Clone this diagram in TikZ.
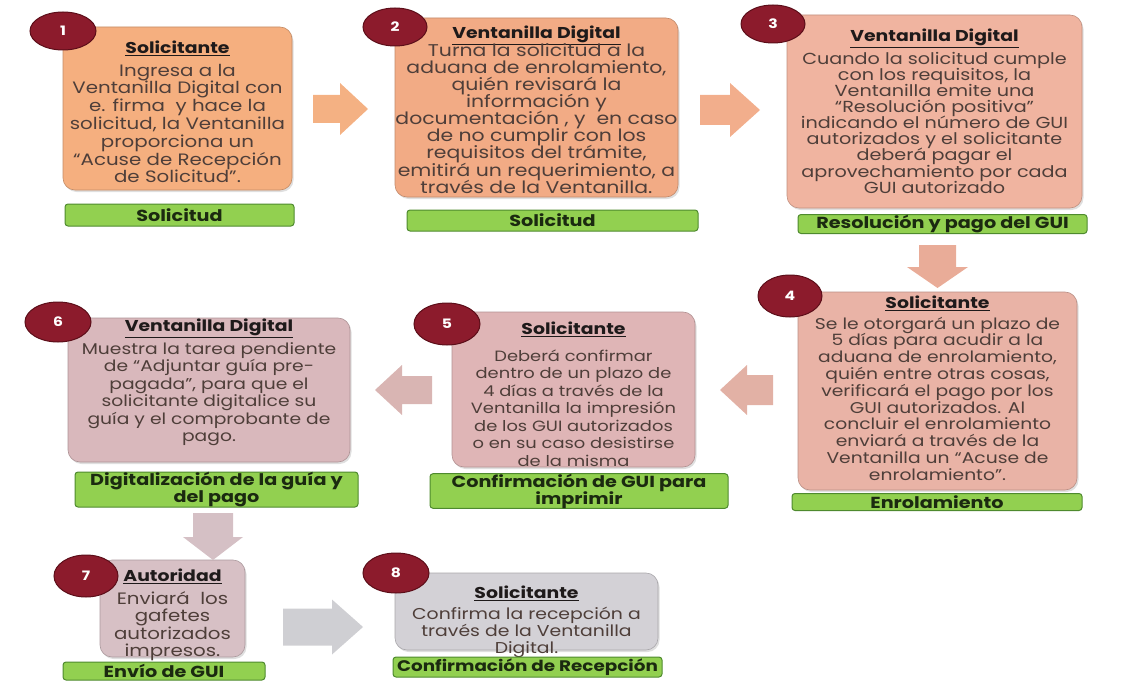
\documentclass[tikz,border=0pt]{standalone}
\usepackage{fontspec}
\setmainfont{Poppins}[FakeStretch=1.2]
\usetikzlibrary{shapes.geometric,shadows}

\definecolor{fillA}{HTML}{F5AF7F}
\definecolor{fillB}{HTML}{F2AB85}
\definecolor{fillC}{HTML}{F0B4A0}
\definecolor{fillD}{HTML}{E9B3A6}
\definecolor{fillE}{HTML}{DFB5B6}
\definecolor{fillF}{HTML}{D9B8BC}
\definecolor{fillG}{HTML}{D7C0C5}
\definecolor{fillH}{HTML}{D3D1D6}
\definecolor{arrA}{HTML}{F4B183}
\definecolor{arrB}{HTML}{F2AE8C}
\definecolor{arrC}{HTML}{E9AC98}
\definecolor{arrD}{HTML}{E2B1A5}
\definecolor{arrE}{HTML}{D9B5B3}
\definecolor{arrF}{HTML}{D5C0C5}
\definecolor{arrG}{HTML}{CFCFD3}
\definecolor{numred}{HTML}{8C1B2C}
\definecolor{numdark}{HTML}{5C0E19}
\definecolor{taggreen}{HTML}{92D050}
\definecolor{tagdark}{HTML}{4E8A2E}
\definecolor{tagtxt}{HTML}{1B2A10}
\definecolor{bodytxt}{HTML}{4E3E39}
\definecolor{titletxt}{HTML}{1E1A1A}

\newcommand{\fsz}[2]{\fontsize{#1}{#2}\selectfont}
\newcommand{\ttl}[1]{{\fontsize{15.7}{17}\selectfont\color{titletxt}\bfseries\underline{#1}}}
% horizontal block arrow: colour, tail x, tip x, head-start x, centre y, shaft half, head half
\newcommand{\harrow}[7]{\fill[#1] (#2,#5-#6) -- (#4,#5-#6) -- (#4,#5-#7) -- (#3,#5)
   -- (#4,#5+#7) -- (#4,#5+#6) -- (#2,#5+#6) -- cycle;}
% vertical block arrow: colour, centre x, tail y, tip y, head-start y, shaft half, head half
\newcommand{\varrow}[7]{\fill[#1] (#2-#6,#3) -- (#2+#6,#3) -- (#2+#6,#5) -- (#2+#7,#5)
   -- (#2,#4) -- (#2-#7,#5) -- (#2-#6,#5) -- cycle;}

\tikzset{
  stepbox/.style={rectangle, rounded corners=12pt, inner sep=0pt,
    draw=#1!80!black, line width=0.6pt, fill=#1,
    drop shadow={opacity=0.25, shadow xshift=1.5pt, shadow yshift=-2pt}},
  boxtext/.style={inner sep=0pt, align=center, text=bodytxt, anchor=north,
    execute at begin node={\lineskiplimit=-50pt}},
  numbub/.style={ellipse, fill=numred, draw=numdark, line width=1pt, text=white,
    font=\bfseries\fsz{13}{13}, inner sep=0pt},
  tag/.style={rectangle, rounded corners=3pt, fill=taggreen, draw=tagdark,
    line width=1pt, text=tagtxt, font=\bfseries\fsz{16}{17}, align=center, inner sep=0pt,
    execute at begin node={\lineskiplimit=-50pt}}
}

\begin{document}
\begin{tikzpicture}[x=1pt,y=-1pt]
\useasboundingbox (0,0) rectangle (1143,682);

% ---------- boxes ----------
\node[stepbox=fillA, minimum width=229pt, minimum height=163pt] (b1) at (177.5,108.5) {};
\node[stepbox=fillB, minimum width=283pt, minimum height=179pt] (b2) at (536.5,107.5) {};
\node[stepbox=fillC, minimum width=295pt, minimum height=193pt] (b3) at (934.5,111.5) {};
\node[stepbox=fillD, minimum width=279pt, minimum height=198pt] (b4) at (937.5,391) {};
\node[stepbox=fillE, minimum width=243pt, minimum height=155pt] (b5) at (573.5,389.5) {};
\node[stepbox=fillF, minimum width=282pt, minimum height=144pt] (b6) at (209,390) {};
\node[stepbox=fillG, minimum width=145pt, minimum height=97pt] (b7) at (172.5,608.5) {};
\node[stepbox=fillH, minimum width=263pt, minimum height=77pt] (b8) at (526.5,611.5) {};

% ---------- box texts ----------
\node[boxtext, font=\fsz{16.5}{17.8}] (t1) at (177.5,40.5)
 {\ttl{Solicitante}\\[5pt]
  Ingresa a la\\ Ventanilla Digital con\\ e. firma \ y hace la\\ solicitud, la Ventanilla\\
  proporciona un\\ “Acuse de Recepción\\ de Solicitud”.};

\node[boxtext, font=\fsz{17}{17.1}] (t2) at (536.5,25.5)
 {\ttl{Ventanilla Digital}\\[1pt]
  Turna la solicitud a la\\ aduana de enrolamiento,\\ quién revisará la\\ información y\\
  documentación , y \ en caso\\ de no cumplir con los\\ requisitos del trámite,\\
  emitirá un requerimiento, a\\ través de la Ventanilla.};

\node[boxtext, font=\fsz{16}{16.1}] (t3) at (934.5,28.5)
 {\ttl{Ventanilla Digital}\\[7pt]
  Cuando la solicitud cumple\\ con los requisitos, la\\ Ventanilla emite una\\
  “Resolución positiva”\\ indicando el número de GUI\\ autorizados y el solicitante\\
  deberá pagar el\\ aprovechamiento por cada\\ GUI autorizado};

\node[boxtext, font=\fsz{15.6}{16.8}] (t4) at (937.5,295.5)
 {\ttl{Solicitante}\\[4pt]
  Se le otorgará un plazo de\\ 5 días para acudir a la\\ aduana de enrolamiento,\\
  quién entre otras cosas,\\ verificará el pago por los\\ GUI autorizados. Al\\
  concluir el enrolamiento\\ enviará a través de la\\ Ventanilla un “Acuse de\\ enrolamiento”.};

\node[boxtext, font=\fsz{14.9}{17.5}] (t5) at (573.5,321.5)
 {\ttl{Solicitante}\\[9.5pt]
  Deberá confirmar\\ dentro de un plazo de\\ 4 días a través de la\\ Ventanilla la impresión\\
  de los GUI autorizados\\ o en su caso desistirse\\ de la misma};

\node[boxtext, font=\fsz{15.6}{17.5}] (t6) at (209,318.5)
 {\ttl{Ventanilla Digital}\\[5.5pt]
  Muestra la tarea pendiente\\ de “Adjuntar guía pre-\\ pagada”, para que el\\
  solicitante digitalice su\\ guía y el comprobante de\\ pago.};

\node[boxtext, font=\fsz{16.5}{17.3}] (t7) at (172.5,568.5)
 {\ttl{Autoridad}\\[6pt]
  Enviará \ los\\ gafetes\\ autorizados\\ impresos.};

\node[boxtext, font=\fsz{15.7}{17}] (t8) at (526.5,585.5)
 {\ttl{Solicitante}\\[4pt]
  Confirma la recepción a\\ través de la Ventanilla\\ Digital.};

% ---------- number bubbles ----------
\node[numbub, minimum width=66pt, minimum height=38pt] (n1) at (63,31) {1};
\node[numbub, minimum width=64pt, minimum height=38pt] (n2) at (395,27) {2};
\node[numbub, minimum width=64pt, minimum height=38pt] (n3) at (773,24) {3};
\node[numbub, minimum width=64pt, minimum height=42pt] (n4) at (790,296) {4};
\node[numbub, minimum width=66pt, minimum height=42pt] (n5) at (447,324) {5};
\node[numbub, minimum width=66pt, minimum height=40pt] (n6) at (58,322) {6};
\node[numbub, minimum width=64pt, minimum height=42pt] (n7) at (86,576) {7};
\node[numbub, minimum width=66pt, minimum height=40pt] (n8) at (396,573) {8};

% ---------- green tags ----------
\node[tag, minimum width=229pt, minimum height=22pt] (g1) at (179.5,215) {Solicitud};
\node[tag, minimum width=291pt, minimum height=21pt] (g2) at (552.5,220.5) {Solicitud};
\node[tag, minimum width=289pt, minimum height=19pt] (g3) at (942.5,224) {Resolución y pago del GUI};
\node[tag, minimum width=290pt, minimum height=17pt] (g4) at (937,502) {Enrolamiento};
\node[tag, minimum width=298pt, minimum height=32pt] (g5) at (579,491) {Confirmación de GUI para\\ imprimir};
\node[tag, minimum width=283pt, minimum height=35pt] (g6) at (216.5,489.5) {Digitalización de la guía y\\ del pago};
\node[tag, minimum width=202pt, minimum height=18pt] (g7) at (164,671) {Envío de GUI};
\node[tag, minimum width=269pt, minimum height=20pt, font=\bfseries\fsz{15.3}{16}] (g8) at (527.5,667) {Confirmación de Recepción};

% ---------- block arrows ----------
\harrow{arrA}{313}{368}{340}{109}{14}{26}
\harrow{arrB}{700}{760}{730}{110}{15}{27}
\varrow{arrC}{937.5}{245}{288}{267}{18.5}{30.5}
\harrow{arrD}{773}{720}{747}{390}{15}{25}
\harrow{arrE}{432}{375}{402}{390}{14}{25}
\varrow{arrF}{213}{513}{560}{537}{20}{30}
\harrow{arrG}{283}{363}{332}{627}{18.5}{27.5}
\end{tikzpicture}
\end{document}
